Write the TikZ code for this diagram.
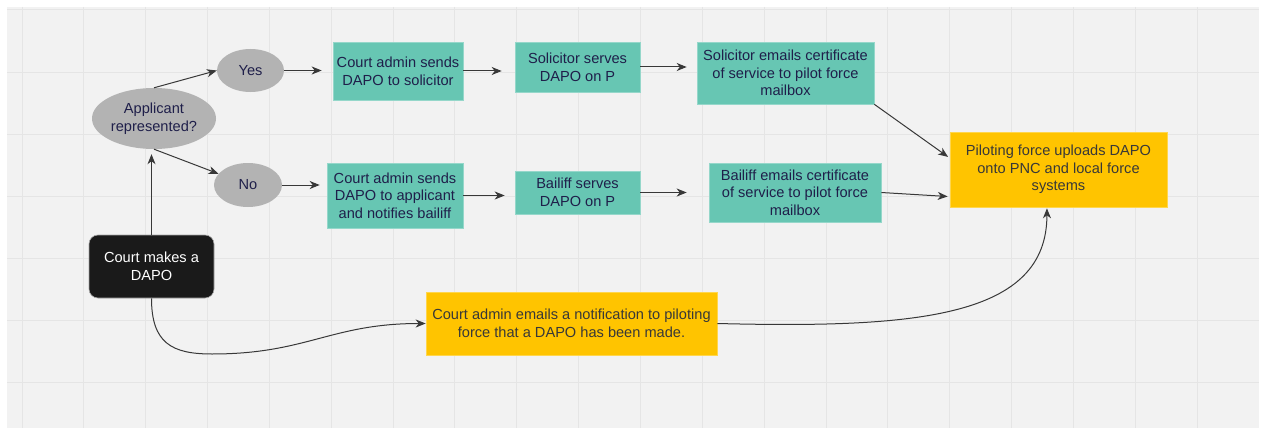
\documentclass[tikz,border=0pt]{standalone}
\usepackage{fontspec}
\setmainfont{Liberation Sans}
\usetikzlibrary{arrows.meta,shapes.geometric}
\definecolor{bgc}{HTML}{F2F2F2}
\definecolor{gridc}{HTML}{E5E5E5}
\definecolor{tealbox}{HTML}{67C6B3}
\definecolor{ybox}{HTML}{FFC400}
\definecolor{gbox}{HTML}{B3B3B3}
\definecolor{navy}{HTML}{1F1F4A}
\definecolor{lnc}{HTML}{383838}
\definecolor{dark}{HTML}{1A1A1A}
\tikzset{
  txt/.style={font=\fontsize{14.6}{17.6}\selectfont, align=center, inner sep=0pt},
  tbox/.style={txt, rectangle, fill=tealbox, draw=tealbox!70!white, line width=0.6pt, text=navy},
  ybx/.style={txt, rectangle, fill=ybox, draw=ybox!70!white, line width=0.6pt, text=lnc},
  gell/.style={txt, ellipse, fill=gbox, text=navy},
  blk/.style={txt, rectangle, rounded corners=9pt, fill=dark, draw=gray!70, line width=0.6pt, text=white},
  arr/.style={draw=lnc, line width=1pt, -{Stealth[length=10pt,width=8pt,inset=3pt]}},
}
\begin{document}
\begin{tikzpicture}[x=1pt,y=-1pt]
\useasboundingbox (0,0) rectangle (1261,428);
\fill[white] (0,0) rectangle (1261,428);
\fill[bgc] (7,7) rectangle (1259,428);
\foreach \i in {0,...,19} \draw[gridc, line width=1pt] ({22+61.85*\i},7) -- ({22+61.85*\i},428);
\foreach \j in {0,...,6} \draw[gridc, line width=1pt] (7,{10+62.15*\j}) -- (1259,{10+62.15*\j});

\node[gell, minimum width=124pt, minimum height=61pt] (app) at (154,118.5) {Applicant\\represented?};
\node[gell, minimum width=67pt, minimum height=43pt] (yes) at (250.5,70.5) {Yes};
\node[gell, minimum width=68pt, minimum height=44pt] (no) at (248,185) {No};
\node[tbox, minimum width=130pt, minimum height=58pt] (cas) at (398,71) {Court admin sends\\DAPO to solicitor};
\node[tbox, minimum width=136pt, minimum height=65pt] (caa) at (395,195.5) {Court admin sends\\DAPO to applicant\\and notifies bailiff};
\node[tbox, minimum width=125pt, minimum height=50pt] (ss) at (577.5,67) {Solicitor serves\\DAPO on P};
\node[tbox, minimum width=125pt, minimum height=43pt] (bs) at (577.5,192.5) {Bailiff serves\\DAPO on P};
\node[tbox, minimum width=177pt, minimum height=62pt] (se) at (785.5,73) {Solicitor emails certificate\\of service to pilot force\\mailbox};
\node[tbox, minimum width=172pt, minimum height=59pt] (be) at (795,192.5) {Bailiff emails certificate\\of service to pilot force\\mailbox};
\node[ybx, minimum width=217pt, minimum height=75pt] (pf) at (1058.5,169.5) {Piloting force uploads DAPO\\onto PNC and local force\\systems};
\node[blk, minimum width=125pt, minimum height=63pt] (cm) at (151.5,266.5) {Court makes a\\DAPO};
\node[ybx, minimum width=291pt, minimum height=63pt] (cn) at (571.5,323.5) {Court admin emails a notification to piloting\\force that a DAPO has been made.};
\coordinate (b1) at (212,354);

\draw[arr] (app.north) -- (yes.west);
\draw[arr] (app.south) -- (no);
\draw[arr, shorten >=11pt] (yes.east) -- (yes.east -| cas.west);
\draw[arr, shorten >=7pt] (no.east) -- (no.east -| caa.west);
\draw[arr, shorten >=13pt] (cas.east) -- (cas.east -| ss.west);
\draw[arr, shorten >=10pt] (caa.east) -- (caa.east -| bs.west);
\draw[arr, shorten >=10pt] (ss.east) -- (ss.east -| se.west);
\draw[arr, shorten >=22pt] (bs.east) -- (bs.east -| be.west);
\draw[arr, shorten >=2pt] (se.south east) -- (pf.174);
\draw[arr, shorten >=2pt] (be.east) -- (pf.194);
\draw[arr, shorten >=5pt] (cm.north) -- (cm.north |- app.south);
\draw[arr] (cm.south) .. controls +(0,45) and +(-40,0) .. (b1) .. controls +(95,0) and +(-95,0) .. (cn.west);
\draw[arr, shorten >=1pt] (cn.east) .. controls +(200,5) and +(0,110) .. (pf.253);
\end{tikzpicture}
\end{document}
